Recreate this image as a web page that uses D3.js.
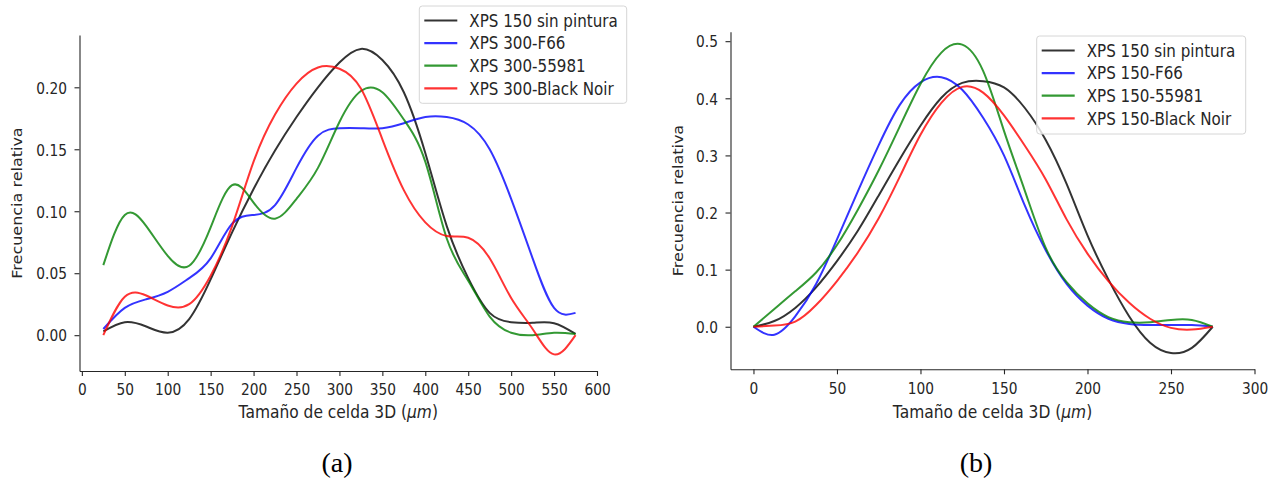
<!DOCTYPE html>
<html>
<head>
<meta charset="utf-8">
<script src="https://cdn.jsdelivr.net/npm/d3@7"></script>
<style>
  body { margin: 0; background: #fff; }
  svg { display: block; }
  text { font-family: "DejaVu Sans", sans-serif; fill: #262626; }
</style>
</head>
<body>
<svg id="chart" width="1281" height="481"></svg>
<script>
// ---- Panel (a): XPS 300 samples -------------------------------------------
const sizesA = [25, 50, 75, 100, 125, 150, 175, 200, 225, 250, 275, 300, 325, 350, 375, 400, 425, 450, 475, 500, 525, 550, 575];
const sinPinturaA = [0.003, 0.0105, 0.007, 0.002, 0.013, 0.045, 0.083, 0.118, 0.149, 0.176, 0.200, 0.220, 0.231, 0.222, 0.196, 0.147, 0.088, 0.046, 0.018, 0.0105, 0.010, 0.0097, 0.001];
const f66A = [0.005, 0.022, 0.029, 0.035, 0.046, 0.062, 0.090, 0.097, 0.105, 0.135, 0.161, 0.167, 0.167, 0.167, 0.171, 0.176, 0.176, 0.170, 0.150, 0.110, 0.062, 0.022, 0.018];
const p55981A = [0.0565, 0.097, 0.088, 0.064, 0.056, 0.087, 0.121, 0.107, 0.094, 0.110, 0.135, 0.172, 0.197, 0.196, 0.174, 0.140, 0.078, 0.044, 0.015, 0.002, 0.0, 0.002, 0.001];
const blackNoirA = [0.0, 0.031, 0.032, 0.024, 0.025, 0.048, 0.088, 0.140, 0.178, 0.203, 0.216, 0.215, 0.199, 0.158, 0.117, 0.091, 0.080, 0.0786, 0.062, 0.030, 0.005, -0.0155, 0.0];
const labelsA = ["XPS 150 sin pintura", "XPS 300-F66", "XPS 300-55981", "XPS 300-Black Noir"];
const xTicksA = [0, 50, 100, 150, 200, 250, 300, 350, 400, 450, 500, 550, 600];
const yTicksA = [0.00, 0.05, 0.10, 0.15, 0.20];

// ---- Panel (b): XPS 150 samples -------------------------------------------
const sizesB = [0, 12.5, 25, 37.5, 50, 62.5, 75, 87.5, 100, 112.5, 125, 137.5, 150, 162.5, 175, 187.5, 200, 212.5, 225, 237.5, 250, 262.5, 275];
const sinPinturaB = [0, 0.010, 0.033, 0.069, 0.115, 0.168, 0.230, 0.293, 0.352, 0.401, 0.427, 0.430, 0.419, 0.383, 0.327, 0.250, 0.160, 0.083, 0.018, -0.028, -0.046, -0.037, 0];
const f66B = [0, -0.014, 0.018, 0.075, 0.153, 0.237, 0.318, 0.388, 0.428, 0.437, 0.415, 0.366, 0.300, 0.212, 0.134, 0.075, 0.037, 0.014, 0.005, 0.003, 0.003, 0.003, 0];
const p55981B = [0, 0.031, 0.062, 0.095, 0.143, 0.205, 0.274, 0.350, 0.425, 0.480, 0.494, 0.448, 0.343, 0.238, 0.138, 0.078, 0.041, 0.017, 0.008, 0.008, 0.012, 0.012, 0];
const blackNoirB = [0, 0.002, 0.009, 0.038, 0.080, 0.130, 0.190, 0.262, 0.336, 0.392, 0.420, 0.410, 0.370, 0.317, 0.258, 0.188, 0.128, 0.080, 0.042, 0.014, -0.002, -0.005, 0];
const labelsB = ["XPS 150 sin pintura", "XPS 150-F66", "XPS 150-55981", "XPS 150-Black Noir"];
const xTicksB = [0, 50, 100, 150, 200, 250, 300];
const yTicksB = [0.0, 0.1, 0.2, 0.3, 0.4, 0.5];

const seriesColors = ["#000000", "#0000ff", "#008000", "#ff0000"];
const SX = 0.86;            // horizontal glyph squeeze of the figure text
const INK = "#262626";

const svg = d3.select("#chart");

function drawPanel(cfg) {
  const g = svg.append("g");
  const x = d3.scaleLinear().domain(cfg.xDomain).range(cfg.xRange);
  const y = d3.scaleLinear().domain(cfg.yDomain).range(cfg.yRange);
  const bottom = cfg.yRange[0];
  const left = cfg.xRange[0];

  // curves
  const line = d3.line()
    .x((d, i) => x(cfg.sizes[i]))
    .y(d => y(d))
    .curve(d3.curveNatural);
  cfg.series.forEach((vals, k) => {
    g.append("path")
      .attr("d", line(vals))
      .attr("fill", "none")
      .attr("stroke", seriesColors[k])
      .attr("stroke-opacity", 0.8)
      .attr("stroke-width", 2);
  });

  // x axis (bottom spine)
  const gx = g.append("g")
    .attr("transform", `translate(0,${bottom})`)
    .call(d3.axisBottom(x).tickValues(cfg.xTicks).tickSize(5).tickSizeOuter(0).tickFormat(d3.format("d")));
  // y axis (left spine)
  const gy = g.append("g")
    .attr("transform", `translate(${left},0)`)
    .call(d3.axisLeft(y).tickValues(cfg.yTicks).tickSize(5).tickSizeOuter(0).tickFormat(d3.format(cfg.yFormat)));

  [gx, gy].forEach(a => {
    a.select(".domain").attr("stroke", INK).attr("stroke-width", 1.1);
    a.selectAll(".tick line").attr("stroke", INK).attr("stroke-width", 1.1);
    a.selectAll("text").attr("fill", INK).attr("font-size", 16)
      .attr("font-family", "DejaVu Sans");
  });
  gx.selectAll("text").attr("dy", null).attr("y", 24.3).attr("transform", `scale(${SX},1)`);
  gy.selectAll("text").attr("x", -12.6 / SX).attr("dy", "0.36em").attr("transform", `scale(${SX},1)`);

  // axis titles
  const xt = g.append("text")
    .attr("transform", `translate(${(cfg.xRange[0] + cfg.xRange[1]) / 2},${cfg.xTitleY}) scale(${SX},1)`)
    .attr("text-anchor", "middle")
    .attr("font-size", 18);
  xt.append("tspan").text("Tamaño de celda 3D (");
  xt.append("tspan").attr("font-style", "italic").text("μm");
  xt.append("tspan").text(")");

  g.append("text")
    .attr("transform", `translate(${cfg.yTitleX},${(cfg.yRange[0] + cfg.yRange[1]) / 2}) rotate(-90) scale(1,${SX})`)
    .attr("text-anchor", "middle")
    .attr("font-size", 16)
    .text("Frecuencia relativa");

  // legend
  const lg = g.append("g").attr("transform", `translate(${cfg.legend.x},${cfg.legend.y})`);
  lg.append("rect")
    .attr("width", cfg.legend.w).attr("height", cfg.legend.h)
    .attr("rx", 3)
    .attr("fill", "#fff").attr("fill-opacity", 0.8)
    .attr("stroke", "#d6d6d6").attr("stroke-width", 1);
  cfg.labels.forEach((lab, k) => {
    const ry = 14.5 + k * 22.6;
    lg.append("line")
      .attr("x1", 5).attr("x2", 38).attr("y1", ry).attr("y2", ry)
      .attr("stroke", seriesColors[k]).attr("stroke-opacity", 0.8).attr("stroke-width", 2.2);
    lg.append("text")
      .attr("transform", `translate(50,${ry}) scale(${SX},1)`)
      .attr("dy", "0.36em")
      .attr("font-size", 17.6)
      .text(lab);
  });

  // sub-figure caption
  svg.append("text")
    .attr("x", cfg.captionX).attr("y", 472)
    .attr("text-anchor", "middle")
    .style("font-family", "'Liberation Serif', 'Times New Roman', serif")
    .style("fill", "#000")
    .attr("font-size", 28)
    .text(cfg.caption);
}

drawPanel({
  sizes: sizesA,
  series: [sinPinturaA, f66A, p55981A, blackNoirA],
  labels: labelsA,
  xTicks: xTicksA, yTicks: yTicksA, yFormat: ".2f",
  xDomain: [-2.75, 600], xRange: [79.5, 597],
  yDomain: [-0.0289, 0.2422], yRange: [371, 35],
  xTitleY: 418, yTitleX: 22,
  legend: { x: 419.3, y: 6, w: 207.4, h: 97.3 },
  caption: "(a)", captionX: 337
});

drawPanel({
  sizes: sizesB,
  series: [sinPinturaB, f66B, p55981B, blackNoirB],
  labels: labelsB,
  xTicks: xTicksB, yTicks: yTicksB, yFormat: ".1f",
  xDomain: [-13.75, 300], xRange: [730.5, 1254.5],
  yDomain: [-0.0745, 0.5166], yRange: [369.3, 31.7],
  xTitleY: 418, yTitleX: 683,
  legend: { x: 1036.7, y: 36, w: 209, h: 98 },
  caption: "(b)", captionX: 976
});
</script>
</body>
</html>
